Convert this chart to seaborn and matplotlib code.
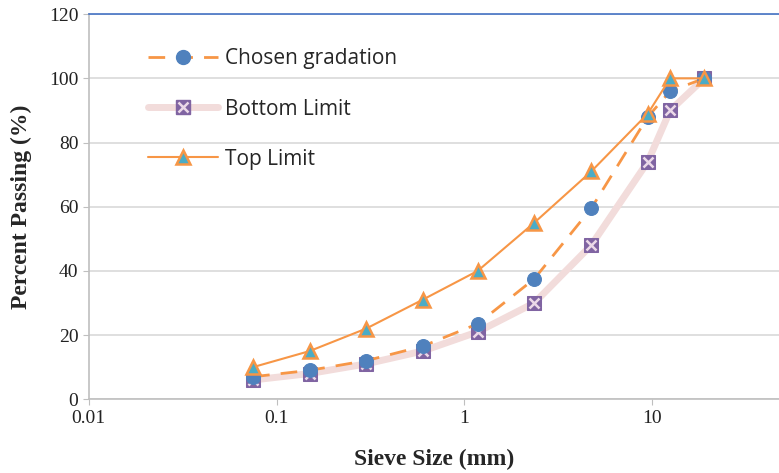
import numpy as np
import pandas as pd
import seaborn as sns
from matplotlib import pyplot as plt
from matplotlib.lines import Line2D

# Sieve sizes (mm) and percent passing
sieve = [0.075, 0.15, 0.3, 0.6, 1.18, 2.36, 4.75, 9.5, 12.5, 19]
chosen = [7, 9, 12, 16.5, 23.5, 37.5, 59.5, 88, 96, 100]
bottom = [6, 8, 11, 15, 21, 30, 48, 74, 90, 100]
top = [10, 15, 22, 31, 40, 55, 71, 89, 100, 100]

df = pd.DataFrame({"sieve": sieve, "chosen": chosen, "bottom": bottom, "top": top})

sns.set_style("white")
plt.rcParams["font.family"] = ["Liberation Serif", "DejaVu Sans"]

orange = "#F79646"
blue = "#4F81BD"
pink = "#F2DCDB"
purple = "#8064A2"
teal = "#4BACC6"

fig = plt.figure(figsize=(7.79, 4.73), dpi=100)
ax = fig.add_axes([0.114, 0.156, 0.886, 0.814])

# Bottom limit: thick pale line, purple squares with light X
sns.lineplot(data=df, x="sieve", y="bottom", ax=ax, color=pink, linewidth=5,
             marker="s", markersize=10, markerfacecolor=purple,
             markeredgecolor=purple, zorder=2)
ax.plot(df["sieve"], df["bottom"], linestyle="none", marker="x", markersize=7,
        markeredgecolor="#EBD9E8", markeredgewidth=1.8, zorder=3)

# Chosen gradation: dashed orange with blue circles
sns.lineplot(data=df, x="sieve", y="chosen", ax=ax, color=orange, linewidth=2,
             dashes=False, linestyle=(0, (6, 4)), marker="o", markersize=10,
             markerfacecolor=blue, markeredgecolor=blue, zorder=4)

# Top limit: thin orange with teal triangles
sns.lineplot(data=df, x="sieve", y="top", ax=ax, color=orange, linewidth=1.5,
             marker="^", markersize=10, markerfacecolor=teal,
             markeredgecolor=orange, markeredgewidth=1.8, zorder=5)

ax.set_xscale("log")
ax.set_xlim(0.01, 47.5)
ax.set_ylim(0, 120)
ax.set_yticks(range(0, 121, 20))
ax.set_xticks([0.01, 0.1, 1, 10])
ax.set_xticklabels(["0.01", "0.1", "1", "10"])
ax.minorticks_off()
ax.yaxis.grid(True, color="#D9D9D9", linewidth=1.2)
ax.set_axisbelow(True)

for s in ["left", "bottom"]:
    ax.spines[s].set_color("#BFBFBF")
    ax.spines[s].set_linewidth(1.2)
ax.spines["right"].set_visible(False)
ax.spines["top"].set_color("#4472C4")
ax.spines["top"].set_linewidth(1.2)
ax.tick_params(axis="both", direction="out", length=4, color="#BFBFBF",
               labelsize=14, labelcolor="#222222", bottom=True, left=True)

ax.set_xlabel("Sieve Size (mm)", fontsize=17, fontweight="bold", labelpad=16)
ax.set_ylabel("Percent Passing (%)", fontsize=17, fontweight="bold", labelpad=12)

h_chosen = Line2D([], [], color=orange, linewidth=2, linestyle=(0, (6, 4)),
                  marker="o", markersize=10, markerfacecolor=blue, markeredgecolor=blue)
h_bottom = Line2D([], [], color=pink, linewidth=5, marker="s", markersize=10,
                  markerfacecolor=purple, markeredgecolor=purple)
h_bx = Line2D([], [], linestyle="none", marker="x", markersize=7,
              markeredgecolor="#EBD9E8", markeredgewidth=1.8)
h_top = Line2D([], [], color=orange, linewidth=1.5, marker="^", markersize=10,
               markerfacecolor=teal, markeredgecolor=orange, markeredgewidth=1.8)
leg = ax.legend([h_chosen, (h_bottom, h_bx), h_top],
                ["Chosen gradation", "Bottom Limit", "Top Limit"],
                loc="upper left", bbox_to_anchor=(0.058, 0.96), frameon=False,
                handlelength=3.4, handletextpad=0.3, labelspacing=1.4,
                prop={"family": "Open Sans", "size": 15})

plt.savefig("out.png", dpi=100)
